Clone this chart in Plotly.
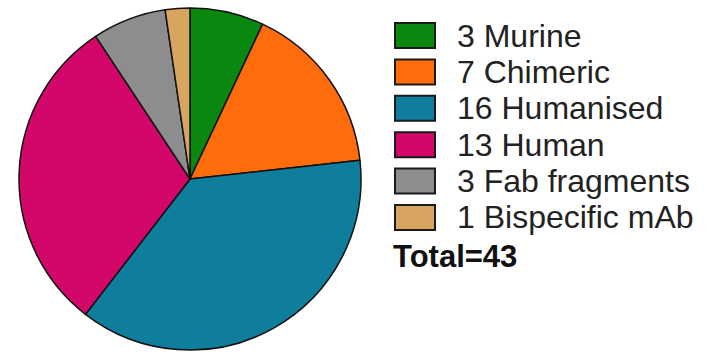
import plotly.graph_objects as go

categories = ["Murine", "Chimeric", "Humanised", "Human", "Fab fragments", "Bispecific mAb"]
counts = [3, 7, 16, 13, 3, 1]
colors = ["#0a870f", "#ff6c0c", "#0f7e9c", "#d3076a", "#8d8d8f", "#d8a560"]
total_label = "Total=" + str(sum(counts))

W, H = 717, 354

fig = go.Figure()
fig.add_trace(go.Pie(
    labels=categories,
    values=counts,
    marker=dict(colors=colors, line=dict(color="#111111", width=1.5)),
    sort=False,
    direction="clockwise",
    rotation=0,
    textinfo="none",
    hoverinfo="label+value",
    showlegend=False,
    domain=dict(x=[19 / W, 361 / W], y=[(H - 350) / H, (H - 8) / H]),
))

# custom legend
x0, x1 = 395, 435
text_x = 455
row_y0 = 35.5
row_dy = 36.4
shapes = []
annotations = []
for i, (cat, n, c) in enumerate(zip(categories, counts, colors)):
    cy = row_y0 + i * row_dy
    shapes.append(dict(
        type="rect", xref="paper", yref="paper",
        x0=x0 / W, x1=x1 / W,
        y0=(H - (cy - 12.5)) / H, y1=(H - (cy + 12.5)) / H,
        fillcolor=c, line=dict(color="#1a1a1a", width=2),
    ))
    annotations.append(dict(
        xref="paper", yref="paper", x=text_x / W, y=(H - cy) / H,
        xanchor="left", yanchor="middle", showarrow=False,
        text=f"{n} {cat}",
        font=dict(family="Liberation Sans, Arial, sans-serif", size=32, color="#222222"),
    ))
annotations.append(dict(
    xref="paper", yref="paper", x=391 / W, y=(H - 256) / H,
    xanchor="left", yanchor="middle", showarrow=False,
    text="<b>" + total_label + "</b>",
    font=dict(family="Liberation Sans, Arial, sans-serif", size=31, color="#111111"),
))

fig.update_layout(
    width=W, height=H,
    margin=dict(l=0, r=0, t=0, b=0),
    paper_bgcolor="white", plot_bgcolor="white",
    shapes=shapes, annotations=annotations,
)
fig.write_html("out.html")
